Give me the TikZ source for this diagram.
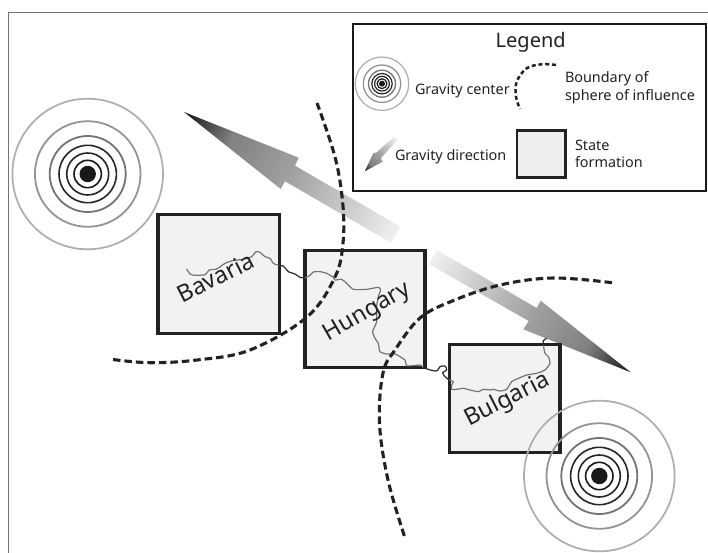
\documentclass[tikz,border=0pt]{standalone}
\usepackage{fontspec}
\setmainfont{Noto Sans}
\definecolor{gravA}{HTML}{F0F0F0}
\definecolor{gravB}{HTML}{CCCCCC}
\definecolor{gravC}{HTML}{A0A0A0}
\definecolor{gravD}{HTML}{808080}
\definecolor{gravE}{HTML}{111111}
\definecolor{ink}{HTML}{222222}
\definecolor{statefill}{HTML}{F2F2F2}
\pgfdeclarehorizontalshading{gravshade}{100bp}{color(0bp)=(gravA); color(25bp)=(gravA); color(36bp)=(gravB); color(50bp)=(gravC); color(64bp)=(gravD); color(75bp)=(gravE); color(100bp)=(gravE)}
\tikzset{
  statebox/.style={draw=ink,line width=3.3pt,fill=statefill,inner sep=0pt,outer sep=0pt},
  boundary/.style={draw=ink,line width=3.1pt,dash pattern=on 7.5pt off 4pt},
  river/.style={draw=black!55,line width=1.2pt,line join=round},
  riverdark/.style={draw=black!85,line width=1.2pt,line join=round},
  label/.style={inner sep=0pt,outer sep=0pt,text=ink,font=\fontsize{14.4}{16}\selectfont,anchor=base west},
  statename/.style={inner sep=0pt,text=ink,font=\fontsize{23.5}{26}\selectfont},
  ringA/.style={draw=black!32,line width=1.7pt},
  ringB/.style={draw=black!42,line width=1.8pt},
  ringC/.style={draw=black!55,line width=1.8pt},
  ringD/.style={draw=black!85,line width=1.6pt},
  ringE/.style={draw=black!90,line width=1.6pt},
}
\begin{document}
\begin{tikzpicture}[x=1pt,y=-1pt]
\useasboundingbox (0,0) rectangle (708,553);
\fill[white] (0,0) rectangle (708,553);
% frame
\draw[black!55,line width=1.5pt] (708,12.5) -- (8.5,12.5) -- (8.5,553);

% gravity arrows
\begin{scope}
  \clip (184,112) -- (298.7,157.7) -- (295,165.7) -- (400.3,226.7) -- (391,242.7) -- (285,181.3) -- (280.7,189) -- cycle;
  \shade[transform canvas={shift={(395.6,234.7)},rotate=149.9},shading=gravshade] (0,-40) rectangle (245,40);
\end{scope}
\begin{scope}
  \clip (630.7,372.3) -- (540.7,300.7) -- (536.7,308) -- (436.7,250) -- (428.7,264) -- (528.7,321) -- (523.3,329.3) -- cycle;
  \shade[transform canvas={shift={(432.7,257)},rotate=-30.8},shading=gravshade] (0,-40) rectangle (230,40);
\end{scope}

% states
\node[statebox,minimum width=121.3pt,minimum height=118.6pt] (bavaria) at (218.6,274) {};
\node[statebox,minimum width=120pt,minimum height=117pt] (hungary) at (365,309.2) {};
\node[statebox,minimum width=110.7pt,minimum height=108pt] (bulgaria) at (504.6,398.7) {};

% river
\begin{scope}[xshift=150pt,yshift=-200pt,x=.3333pt,y=-.3333pt]
  \draw[river] plot[smooth,tension=.35] coordinates {(110,207) (120,222) (135,226) (165,224) (178,210) (200,207) (225,190) (248,182) (280,178) (305,170) (318,155) (330,157) (345,170) (360,175) (370,190) (388,197)};
  \draw[riverdark] plot[smooth,tension=.35] coordinates {(388,197) (400,198) (415,215) (435,222) (450,232) (465,234)};
  \draw[river] plot[smooth,tension=.35] coordinates {(465,234) (480,226) (490,216) (510,215) (530,220) (550,232) (555,240) (575,238) (590,250) (610,268) (650,268) (685,262) (692,270) (685,290) (680,320) (680,365) (668,395) (675,415) (685,430) (690,455) (710,462) (735,462) (750,470) (765,480) (770,497) (790,497) (810,495) (820,502)};
\end{scope}
\begin{scope}[xshift=350pt,yshift=-330pt,x=.3333pt,y=-.3333pt]
  \draw[riverdark] plot[smooth,tension=.5] coordinates {(228,116) (250,122) (262,122) (270,110) (285,108) (290,120) (278,128) (285,140) (298,150)};
  \draw[river] plot[smooth,tension=.35] coordinates {(298,150) (310,155) (305,165) (305,178) (320,178) (340,175) (360,180) (385,185) (400,178) (420,180) (430,178) (450,183) (470,178) (485,155) (510,143) (530,135) (560,130) (585,120) (600,100) (595,80) (585,70) (580,45)};
  \draw[riverdark] plot[smooth,tension=.5] coordinates {(580,45) (580,32) (590,25)};
\end{scope}

% spheres of influence
\draw[boundary] plot[smooth,tension=.6] coordinates {(113,359.5) (150,362.7) (197,360) (250,350) (307,317) (335,277) (343,243) (342.7,203) (335,157) (317,103)};
\draw[boundary] plot[smooth,tension=.6] coordinates {(612,282.7) (553,278) (500,285) (453,300.7) (420,318) (395,350) (383,373) (379.5,423) (388,480) (405,538)};

% state names
\node[statename,rotate=27] (bavarianame) at (215.5,277.5) {Bavaria};
\node[statename,rotate=30] (hungaryname) at (367.5,312.5) {Hungary};
\node[statename,rotate=27] (bulgarianame) at (507.5,400) {Bulgaria};

% gravity centres
\foreach \cx/\cy in {87.7/174,599.3/476}{
  \draw[ringA] (\cx,\cy) circle[radius=75.3pt];
  \draw[ringB] (\cx,\cy) circle[radius=52.8pt];
  \draw[ringC] (\cx,\cy) circle[radius=38pt];
  \draw[ringD] (\cx,\cy) circle[radius=28.7pt];
  \draw[ringD] (\cx,\cy) circle[radius=21pt];
  \draw[ringE] (\cx,\cy) circle[radius=13.7pt];
  \fill[black!90] (\cx,\cy) circle[radius=8.2pt];
}

% legend
\node[draw=black!90,line width=2.1pt,fill=white,minimum width=352.4pt,minimum height=166.7pt,inner sep=0pt,outer sep=0pt] (legend) at (529.5,107.6) {};
\node[inner sep=0pt,text=ink,font=\fontsize{20}{24}\selectfont] (legendtitle) at (530.7,42.3) {Legend};
\draw[ringA,line width=1.2pt] (382,83.7) circle[radius=26.7pt];
\draw[ringB,line width=1.3pt] (382,83.7) circle[radius=18.7pt];
\draw[ringC,line width=1.3pt] (382,83.7) circle[radius=13.5pt];
\draw[ringD,line width=1.2pt] (382,83.7) circle[radius=10.2pt];
\draw[ringD,line width=1.2pt] (382,83.7) circle[radius=7.4pt];
\draw[ringE,line width=1.2pt] (382,83.7) circle[radius=4.9pt];
\fill[black!90] (382,83.7) circle[radius=3pt];
\node[label] (lgc) at (415,95) {Gravity center};
\draw[boundary,line width=2.5pt,dash pattern=on 4pt off 2.8pt] plot[smooth,tension=.6] coordinates {(556,65) (541.7,64.3) (526.7,68.3) (516.7,81.7) (516,96.7) (520,109)};
\node[label] (lb1) at (565,83) {Boundary of};
\node[label] (lb2) at (565,100.5) {sphere of influence};
\begin{scope}
  \clip (364.7,171.3) -- (373.3,153.3) -- (376.7,152.3) -- (394,136.7) -- (397.3,140) -- (380.7,158.3) -- (382.7,161.7) -- cycle;
  \shade[transform canvas={shift={(395.7,138.3)},rotate=-132.3},shading=gravshade] (0,-20) rectangle (46,20);
\end{scope}
\node[label] (lgd) at (395,161) {Gravity direction};
\node[draw=ink,line width=2.7pt,fill=black!7,minimum width=48.7pt,minimum height=47pt,inner sep=0pt,outer sep=0pt] (lsf) at (541.3,154.2) {};
\node[label] (ls1) at (575,150.5) {State};
\node[label] (ls2) at (575,168) {formation};
\end{tikzpicture}
\end{document}
